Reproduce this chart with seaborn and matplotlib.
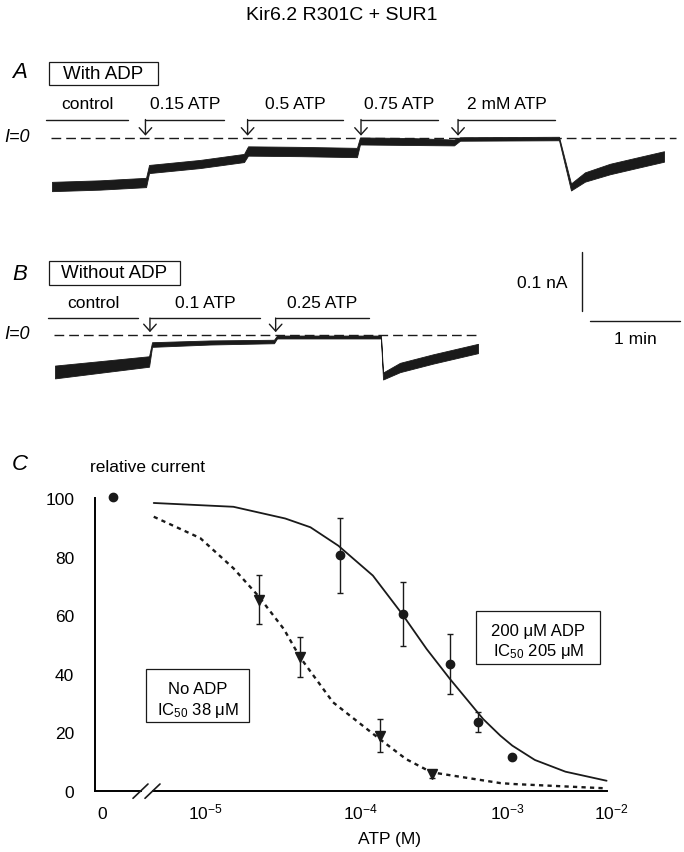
import numpy as np
import pandas as pd
import seaborn as sns
import matplotlib.pyplot as plt
from matplotlib.patches import Rectangle
from matplotlib.lines import Line2D
from matplotlib.ticker import NullLocator

# -----------------------------
# Panel A trace (with ADP): time (s), current (pA), noise half-width (pA)
# -----------------------------
a_time = [0, 32, 62.7, 64.7, 98.7, 128, 130.7, 165.3, 203.3, 205.3, 238.7, 268,
          272, 338, 346, 355.3, 372, 392, 408]
a_curr = [-83.2, -80.6, -76.3, -53.2, -44.6, -34.3, -22.3, -23.2, -24.9, -5.1,
          -6.0, -7.7, -1.7, -0.9, -84, -66.9, -53.2, -41.2, -31.7]
a_noise = [8, 8, 8, 7, 7, 7, 8, 8, 8, 6, 6, 5, 3, 3, 6, 8, 9, 9, 9]

a_sol = ["control", "0.15 ATP", "0.5 ATP", "0.75 ATP", "2 mM ATP"]
a_sol_start = [-4, 62.3, 130.4, 206, 270.7]
a_sol_end = [50.7, 114.7, 193.8, 257.3, 335.3]

# -----------------------------
# Panel B trace (without ADP)
# -----------------------------
b_time = [0, 30, 62.7, 64.7, 103.3, 146, 148, 217.3, 218.7, 230, 252, 282]
b_curr = [-64.3, -55.7, -46.3, -17.2, -13.7, -12, -4.3, -4.3, -71.2, -56.6, -42, -24]
b_noise = [11, 10, 9, 4, 3.5, 3, 2.5, 2.5, 6, 8, 8, 8]

b_sol = ["control", "0.1 ATP", "0.25 ATP"]
b_sol_start = [-4.5, 63.3, 147.1]
b_sol_end = [55.5, 136.7, 209.5]

# -----------------------------
# Panel C: dose-response
# -----------------------------
adp_conc = [5e-5, 1.5e-4, 3.4e-4, 5.5e-4, 1e-3]
adp_mean = [80.5, 60.4, 43.3, 23.4, 11.4]
adp_err = [12.8, 10.8, 10.4, 3.5, 0]

noadp_conc = [1.23e-5, 2.5e-5, 1e-4, 2.5e-4]
noadp_mean = [65.3, 45.6, 18.8, 5.7]
noadp_err = [8.5, 6.8, 5.7, 1.3]

zero_mean = 100.5

# fitted curves (log10 of ATP in M)
fit_logc_adp = [-5.70, -5.10, -4.71, -4.52, -4.31, -4.05, -3.83, -3.645, -3.47,
                -3.22, -3.09, -3.0, -2.83, -2.6, -2.29]
fit_adp = [98.3, 97, 93, 90, 83.7, 73.5, 60.4, 48.4, 38.2, 24.5, 18.8, 15.4, 10.5,
           6.5, 3.4]
fit_logc_noadp = [-5.70, -5.35, -5.10, -4.91, -4.72, -4.60, -4.35, -4.0, -3.80,
                  -3.61, -3.09, -3.0, -2.29]
fit_noadp = [93.6, 86.3, 76, 66.4, 55.2, 45.7, 30.2, 17.7, 10.8, 6.3, 2.6, 2.3, 0.8]

tick_conc = [1e-5, 1e-4, 1e-3]
tick_labels = ["10$^{-5}$", "10$^{-4}$", "10$^{-3}$"]

# -----------------------------
# Style
# -----------------------------
sns.set_theme(style="white", rc={
    "axes.edgecolor": "black", "text.color": "black", "xtick.color": "black",
    "ytick.color": "black", "axes.labelcolor": "black"})
plt.rcParams["font.family"] = ["Liberation Sans", "DejaVu Sans"]
plt.rcParams["mathtext.fontset"] = "custom"
plt.rcParams["mathtext.rm"] = "Liberation Sans"
plt.rcParams["mathtext.it"] = "Liberation Sans:italic"
plt.rcParams["mathtext.default"] = "regular"

W, H = 684, 853
FS = 12.5


def fx(px):
    return px / W


def fy(py):
    return 1 - py / H


fig = plt.figure(figsize=(W / 100, H / 100), dpi=100)


def box(x0, y0, x1, y1):
    fig.add_artist(Rectangle((fx(x0), fy(y1)), fx(x1) - fx(x0), fy(y0) - fy(y1),
                             transform=fig.transFigure, fill=False, lw=0.9, color="k"))


def ftext(x, y, s, **kw):
    kw.setdefault("fontsize", FS)
    fig.text(fx(x), fy(y), s, ha="center", va="center", **kw)


PX_S = 1.5      # pixels per second
PX_PA = 0.583   # pixels per pA


def trace_axes(top, bottom, x0, y0):
    ax = fig.add_axes([0, fy(bottom), 1, (bottom - top) / H])
    ax.set_xlim((0 - x0) / PX_S, (W - x0) / PX_S)
    ax.set_ylim((y0 - bottom) / PX_PA, (y0 - top) / PX_PA)
    ax.axis("off")
    return ax


def draw_trace(ax, t, c, n, sol, s0, s1, bar_y, dash_end):
    t, c, n = np.array(t), np.array(c), np.array(n)
    ax.fill_between(t, c - n, c + n, color="k", lw=0.6)
    ax.hlines(0, -1, dash_end, color="k", lw=1.0, linestyles=[(0, (7, 3.6))])
    for i, (lab, st, en) in enumerate(zip(sol, s0, s1)):
        ax.plot([st, en], [bar_y, bar_y], color="k", lw=1.0, clip_on=False)
        if i > 0:
            ax.annotate("", xy=(st, 4), xytext=(st, bar_y),
                        arrowprops=dict(arrowstyle="->,head_length=0.5,head_width=0.45",
                                        lw=1.0, color="k", shrinkA=0, shrinkB=0,
                                        mutation_scale=10))
        ax.text((st + en) / 2, bar_y + 27, lab, ha="center", va="center", fontsize=FS)


# -----------------------------
# Panel A
# -----------------------------
axa = trace_axes(90, 200, 52, 139)
draw_trace(axa, a_time, a_curr, a_noise, a_sol, a_sol_start, a_sol_end, 31.7, a_time[-1] + 8)

# -----------------------------
# Panel B
# -----------------------------
axb = trace_axes(245, 390, 55, 335.5)
draw_trace(axb, b_time, b_curr, b_noise, b_sol, b_sol_start, b_sol_end, 28.3, b_time[-1])

# scale bars: 0.1 nA and 1 min
sb_t, sb_i = 351, 41
axb.plot([sb_t, sb_t], [sb_i, sb_i + 100], color="k", lw=1.0, clip_on=False)
axb.plot([sb_t + 5.6, sb_t + 65.6], [23.7, 23.7], color="k", lw=1.0, clip_on=False)
axb.text(sb_t - 26, sb_i + 48, "0.1 nA", ha="center", va="center", fontsize=FS)
axb.text(sb_t + 35.6, -7.7, "1 min", ha="center", va="center", fontsize=FS)

# labels and boxes for A and B
ftext(342, 16, "Kir6.2 R301C + SUR1", fontsize=14)
ftext(20, 73, "A", fontsize=16, style="italic")
ftext(20, 274, "B", fontsize=16, style="italic")
ftext(20, 465, "C", fontsize=16, style="italic")
box(48.5, 62.7, 157.7, 86.4)
ftext(103.1, 74.5, "With ADP", fontsize=13.5)
box(48.5, 262, 179.7, 286)
ftext(114.1, 274, "Without ADP", fontsize=13.5)
ftext(17.5, 137.5, "I=0", fontsize=13, style="italic")
ftext(17.5, 335, "I=0", fontsize=13, style="italic")

# -----------------------------
# Panel C (broken x axis)
# -----------------------------
c_top, c_bot = 499, 791.7
axl = fig.add_axes([fx(95), fy(c_bot), fx(141) - fx(95), (c_bot - c_top) / H])
axr = fig.add_axes([fx(153), fy(c_bot), fx(607) - fx(153), (c_bot - c_top) / H])
for ax in (axl, axr):
    ax.set_ylim(0, 100)
    ax.set_facecolor("none")
    for s in ax.spines.values():
        s.set_linewidth(1.4)

axl.set_xlim(-0.8, 1.2)
axl.spines[["top", "right"]].set_visible(False)
axl.set_yticks([0, 20, 40, 60, 80, 100])
axl.set_xticks([])
axl.tick_params(axis="y", direction="in", length=4.5, width=1.3, labelsize=FS, pad=15)
axl.plot([0], [zero_mean], "o", color="k", ms=6, clip_on=False)

axr.set_xscale("log")
axr.set_xlim(10 ** -5.7056, 10 ** -2.2869)
axr.spines[["top", "right", "left"]].set_visible(False)
axr.set_yticks([])
axr.set_xticks(tick_conc, labels=[""] * len(tick_conc))
axr.xaxis.set_minor_locator(NullLocator())
axr.tick_params(axis="x", direction="in", length=4.5, width=1.2)

fits = pd.DataFrame({"x": 10 ** np.array(fit_logc_adp), "y": fit_adp})
sns.lineplot(data=fits, x="x", y="y", ax=axr, color="k", lw=1.3, clip_on=False)
fits_n = pd.DataFrame({"x": 10 ** np.array(fit_logc_noadp), "y": fit_noadp})
sns.lineplot(data=fits_n, x="x", y="y", ax=axr, color="k", lw=1.7,
             linestyle=(0, (1.8, 1.8)), clip_on=False)
axr.errorbar(adp_conc, adp_mean, yerr=adp_err, fmt="o", color="k", ms=6,
             elinewidth=1.0, capsize=2.5, capthick=1.0, clip_on=False)
axr.errorbar(noadp_conc, noadp_mean, yerr=noadp_err, fmt="v", color="k", ms=6.5,
             elinewidth=1.0, capsize=2.5, capthick=1.0, clip_on=False)
axr.set_xlabel("")
axr.set_ylabel("")

# x tick labels (placed as in the original figure)
axl.annotate("0", (0, 0), xycoords=("data", "axes fraction"), xytext=(-8.4, -20),
             textcoords="offset points", ha="center", va="baseline", fontsize=FS)
for c, lab, dx in zip(tick_conc, tick_labels, [-30, -14, -3.7]):
    axr.annotate(lab, (c, 0), xycoords=("data", "axes fraction"), xytext=(dx, -20),
                 textcoords="offset points", ha="center", va="baseline", fontsize=FS)
axr.annotate("10$^{-2}$", (1, 0), xycoords="axes fraction", xytext=(3, -20),
             textcoords="offset points", ha="center", va="baseline", fontsize=FS)

# axis break marks
for x0 in (133, 145):
    fig.add_artist(Line2D([fx(x0), fx(x0 + 15)], [fy(799.3), fy(785)],
                          transform=fig.transFigure, color="k", lw=1.2))

ftext(148, 468, "relative current")
ftext(390, 840, "ATP (M)")

box(145.7, 670, 249.3, 722.7)
ftext(197.5, 690, "No ADP", fontsize=12)
ftext(197.5, 710.7, "IC$_{50}$ 38 μM", fontsize=12)
box(476, 611.7, 600.4, 665)
ftext(538.2, 631.7, "200 μM ADP", fontsize=12)
ftext(538.2, 651.7, "IC$_{50}$ 205 μM", fontsize=12)

fig.savefig("out.png", dpi=100)
plt.close(fig)
